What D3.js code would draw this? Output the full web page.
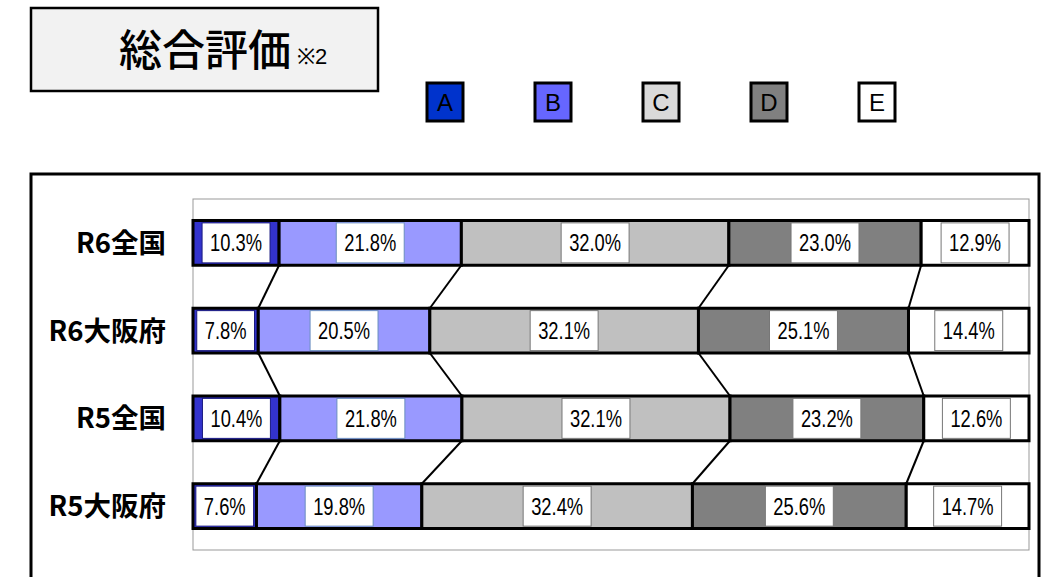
<!DOCTYPE html>
<head>
    <meta charset="utf-8">
    <title>総合評価</title>
    <script src="https://d3js.org/d3.v7.min.js"></script>
    <style>
        body { margin: 0; background: #fff; }
        text { font-family: "Liberation Sans", Arial, sans-serif; }
        .cat { font-family: "Noto Sans CJK JP", sans-serif; font-weight: 700; }
        .pct { font-family: "Liberation Sans", Arial, sans-serif; }
    </style>
</head>
<body>
    <div id="container"></div>
    <script>
        //------------------------DATA------------------------//
        var categories = ["R6全国", "R6大阪府", "R5全国", "R5大阪府"],
            grades = ["A", "B", "C", "D", "E"],
            seriesA = [10.3, 7.8, 10.4, 7.6],
            seriesB = [21.8, 20.5, 21.8, 19.8],
            seriesC = [32.0, 32.1, 32.1, 32.4],
            seriesD = [23.0, 25.1, 23.2, 25.6],
            seriesE = [12.9, 14.4, 12.6, 14.7]

        var barColors = ["#3333cc", "#9999ff", "#c0c0c0", "#808080", "#ffffff"],
            legendColors = ["#0033cc", "#6666ff", "#d9d9d9", "#808080", "#ffffff"],
            labelBorders = ["#1a1a80", "#6b8fbf", "#777777", "#777777", "#777777"]

        var rows = categories.map(function (c, i) {
            return { name: c, A: seriesA[i], B: seriesB[i], C: seriesC[i], D: seriesD[i], E: seriesE[i] }
        })

        var W = 1046, H = 577
        var plot = { left: 193, right: 1029, top: 199, bottom: 550 }

        var svg = d3.select("#container").append("svg")
            .attr("width", W).attr("height", H)

        //-----------------------TITLE------------------------//
        svg.append("rect")
            .attr("x", 31).attr("y", 8).attr("width", 347).attr("height", 83)
            .attr("fill", "#f2f2f2").attr("stroke", "#000").attr("stroke-width", 2.5)
        var title = svg.append("text").attr("x", 119).attr("y", 66)
        title.append("tspan")
            .style("font-family", "'Noto Sans CJK JP', sans-serif").style("font-weight", 500)
            .attr("font-size", 43).text("総合評価")
        title.append("tspan").attr("dx", 6).attr("dy", -2)
            .attr("font-size", 22).text("※2")

        //-----------------------LEGEND-----------------------//
        var lx = d3.scalePoint().domain(grades).range([445, 877])
        var lg = svg.selectAll(".lg").data(grades).enter().append("g")
            .attr("transform", function (d) { return "translate(" + lx(d) + ",102)" })
        lg.append("rect")
            .attr("x", -18).attr("y", -19).attr("width", 36).attr("height", 38)
            .attr("fill", function (d, i) { return legendColors[i] })
            .attr("stroke", "#000").attr("stroke-width", 3)
        lg.append("text")
            .attr("text-anchor", "middle").attr("y", 9).attr("font-size", 24)
            .text(function (d) { return d })

        //------------------------FRAME-----------------------//
        svg.append("rect")
            .attr("x", 31).attr("y", 174).attr("width", 1008).attr("height", 420)
            .attr("fill", "none").attr("stroke", "#000").attr("stroke-width", 3)
        svg.append("rect")
            .attr("x", plot.left).attr("y", plot.top)
            .attr("width", plot.right - plot.left).attr("height", plot.bottom - plot.top)
            .attr("fill", "none").attr("stroke", "#999").attr("stroke-width", 1)

        //------------------------SCALES----------------------//
        var x = d3.scaleLinear().domain([0, 1]).range([plot.left, plot.right])
        var y = d3.scaleBand().domain(categories).range([plot.top, plot.bottom])
            .paddingInner(0.49).paddingOuter(0.245)

        var stacked = d3.stack().keys(grades).offset(d3.stackOffsetExpand)(rows)

        //--------------------CONNECTORS----------------------//
        var links = []
        stacked.forEach(function (s, k) {
            if (k === grades.length - 1) return
            for (var i = 0; i < rows.length - 1; i++) {
                links.push({ x1: x(s[i][1]), y1: y(categories[i]) + y.bandwidth(),
                             x2: x(s[i + 1][1]), y2: y(categories[i + 1]) })
            }
        })
        svg.selectAll(".link").data(links).enter().append("line")
            .attr("x1", function (d) { return d.x1 }).attr("y1", function (d) { return d.y1 })
            .attr("x2", function (d) { return d.x2 }).attr("y2", function (d) { return d.y2 })
            .attr("stroke", "#000").attr("stroke-width", 2)

        //-------------------------BARS-----------------------//
        var layer = svg.selectAll(".layer").data(stacked).enter().append("g")

        layer.selectAll("rect").data(function (s) { return s.map(function (d) { d.key = s.key; d.idx = s.index; return d }) })
            .enter().append("rect")
            .attr("x", function (d) { return x(d[0]) })
            .attr("width", function (d) { return x(d[1]) - x(d[0]) })
            .attr("y", function (d) { return y(d.data.name) })
            .attr("height", y.bandwidth())
            .attr("fill", function (d) { return barColors[d.idx] })
            .attr("stroke", "#000").attr("stroke-width", 3)

        //------------------------LABELS----------------------//
        // narrow digits: regular sans squeezed horizontally
        var squeeze = 0.78
        var labels = layer.selectAll(".lab").data(function (s) { return s }).enter().append("g")
            .attr("transform", function (d) {
                return "translate(" + (x(d[0]) + x(d[1])) / 2 + "," + (y(d.data.name) + y.bandwidth() / 2) + ")"
            })
        labels.append("rect").attr("class", "box")
        labels.append("text").attr("class", "pct")
            .attr("text-anchor", "middle").attr("y", 8.5).attr("font-size", 23.5)
            .attr("transform", "scale(" + squeeze + ",1)")
            .text(function (d) { return d.data[d.key].toFixed(1) + "%" })
        labels.each(function (d) {
            var g = d3.select(this)
            var w = g.select("text").node().getComputedTextLength() * squeeze + 16
            g.select("rect")
                .attr("x", -w / 2).attr("y", -20).attr("width", w).attr("height", 40)
                .attr("fill", "#fff").attr("stroke", labelBorders[d.idx]).attr("stroke-width", 1)
        })

        //--------------------CATEGORY AXIS-------------------//
        svg.selectAll(".cat").data(categories).enter().append("text")
            .attr("class", "cat")
            .attr("x", 166).attr("y", function (d) { return y(d) + y.bandwidth() / 2 + 10 })
            .attr("text-anchor", "end").attr("font-size", 27.5)
            .text(function (d) { return d })
    </script>
</body>
